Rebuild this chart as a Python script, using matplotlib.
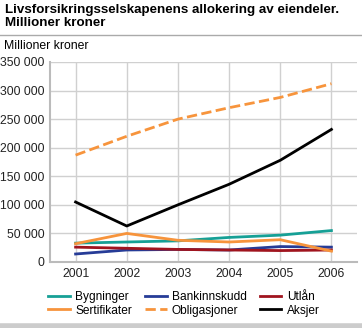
import matplotlib.pyplot as plt
from matplotlib.lines import Line2D
from matplotlib.ticker import FuncFormatter

plt.rcParams["font.family"] = ["Liberation Sans", "DejaVu Sans"]

# data (millioner kroner)
years = [2001, 2002, 2003, 2004, 2005, 2006]
bygninger = [33000, 35000, 37000, 43000, 47000, 55000]
bankinnskudd = [14000, 21000, 22000, 21000, 27000, 26000]
utlan = [26000, 24000, 22000, 21000, 20000, 21000]
sertifikater = [32000, 50000, 38000, 35000, 39000, 19000]
obligasjoner = [187000, 220000, 250000, 270000, 288000, 312000]
aksjer = [105000, 63000, 100000, 136000, 178000, 232000]

series = [
    ("Bygninger", bygninger, "#16a096", "-"),
    ("Bankinnskudd", bankinnskudd, "#263c97", "-"),
    ("Utlån", utlan, "#a0141e", "-"),
    ("Sertifikater", sertifikater, "#f7943c", "-"),
    ("Obligasjoner", obligasjoner, "#f7943c", "--"),
    ("Aksjer", aksjer, "#000000", "-"),
]

fig = plt.figure(figsize=(3.62, 3.28), dpi=100)
ax = fig.add_axes([50 / 362, 1 - 262 / 328, 307 / 362, 200 / 328])

for name, vals, color, ls in series:
    ax.plot(years, vals, color=color, linestyle=ls, linewidth=2, label=name,
            zorder=3)

ax.set_xlim(2000.5, 2006.5)
ax.set_ylim(0, 350000)
ax.set_xticks(years)
ax.set_yticks(range(0, 350001, 50000))
ax.yaxis.set_major_formatter(FuncFormatter(lambda v, p: f"{int(v):,}".replace(",", " ")))
ax.grid(True, color="#d0d0d0", linewidth=1)
ax.set_axisbelow(True)
for s in ("top", "right"):
    ax.spines[s].set_visible(False)
for s in ("left", "bottom"):
    ax.spines[s].set_color("#bbbbbb")
    ax.spines[s].set_linewidth(1.5)
ax.tick_params(length=0, labelsize=8.8, colors="#222222", pad=4)

fig.text(5 / 362, 1 - 4 / 328, "Livsforsikringsselskapenens allokering av eiendeler.\nMillioner kroner",
         fontsize=9.6, fontweight="bold", va="top", ha="left", linespacing=1.1)
fig.add_artist(Line2D([0, 1], [1 - 35 / 328] * 2, color="#aaaaaa", linewidth=1))
fig.text(4 / 362, 1 - 46 / 328, "Millioner kroner", fontsize=8.8, va="center", ha="left")

# legend is filled row by row in the reference; matplotlib fills by column
handles, labels = ax.get_legend_handles_labels()
order = [0, 3, 1, 4, 2, 5]
fig.legend([handles[i] for i in order], [labels[i] for i in order], ncol=3,
           loc="center", bbox_to_anchor=(184 / 362, 1 - 304 / 328),
           frameon=False, fontsize=8.6, handlelength=1.8, handletextpad=0.45,
           columnspacing=1.1, labelspacing=0.1, borderaxespad=0, borderpad=0)
fig.add_artist(Line2D([0, 1], [1 - 326 / 328] * 2, color="#cccccc", linewidth=4))

fig.savefig("out.png", dpi=100)
